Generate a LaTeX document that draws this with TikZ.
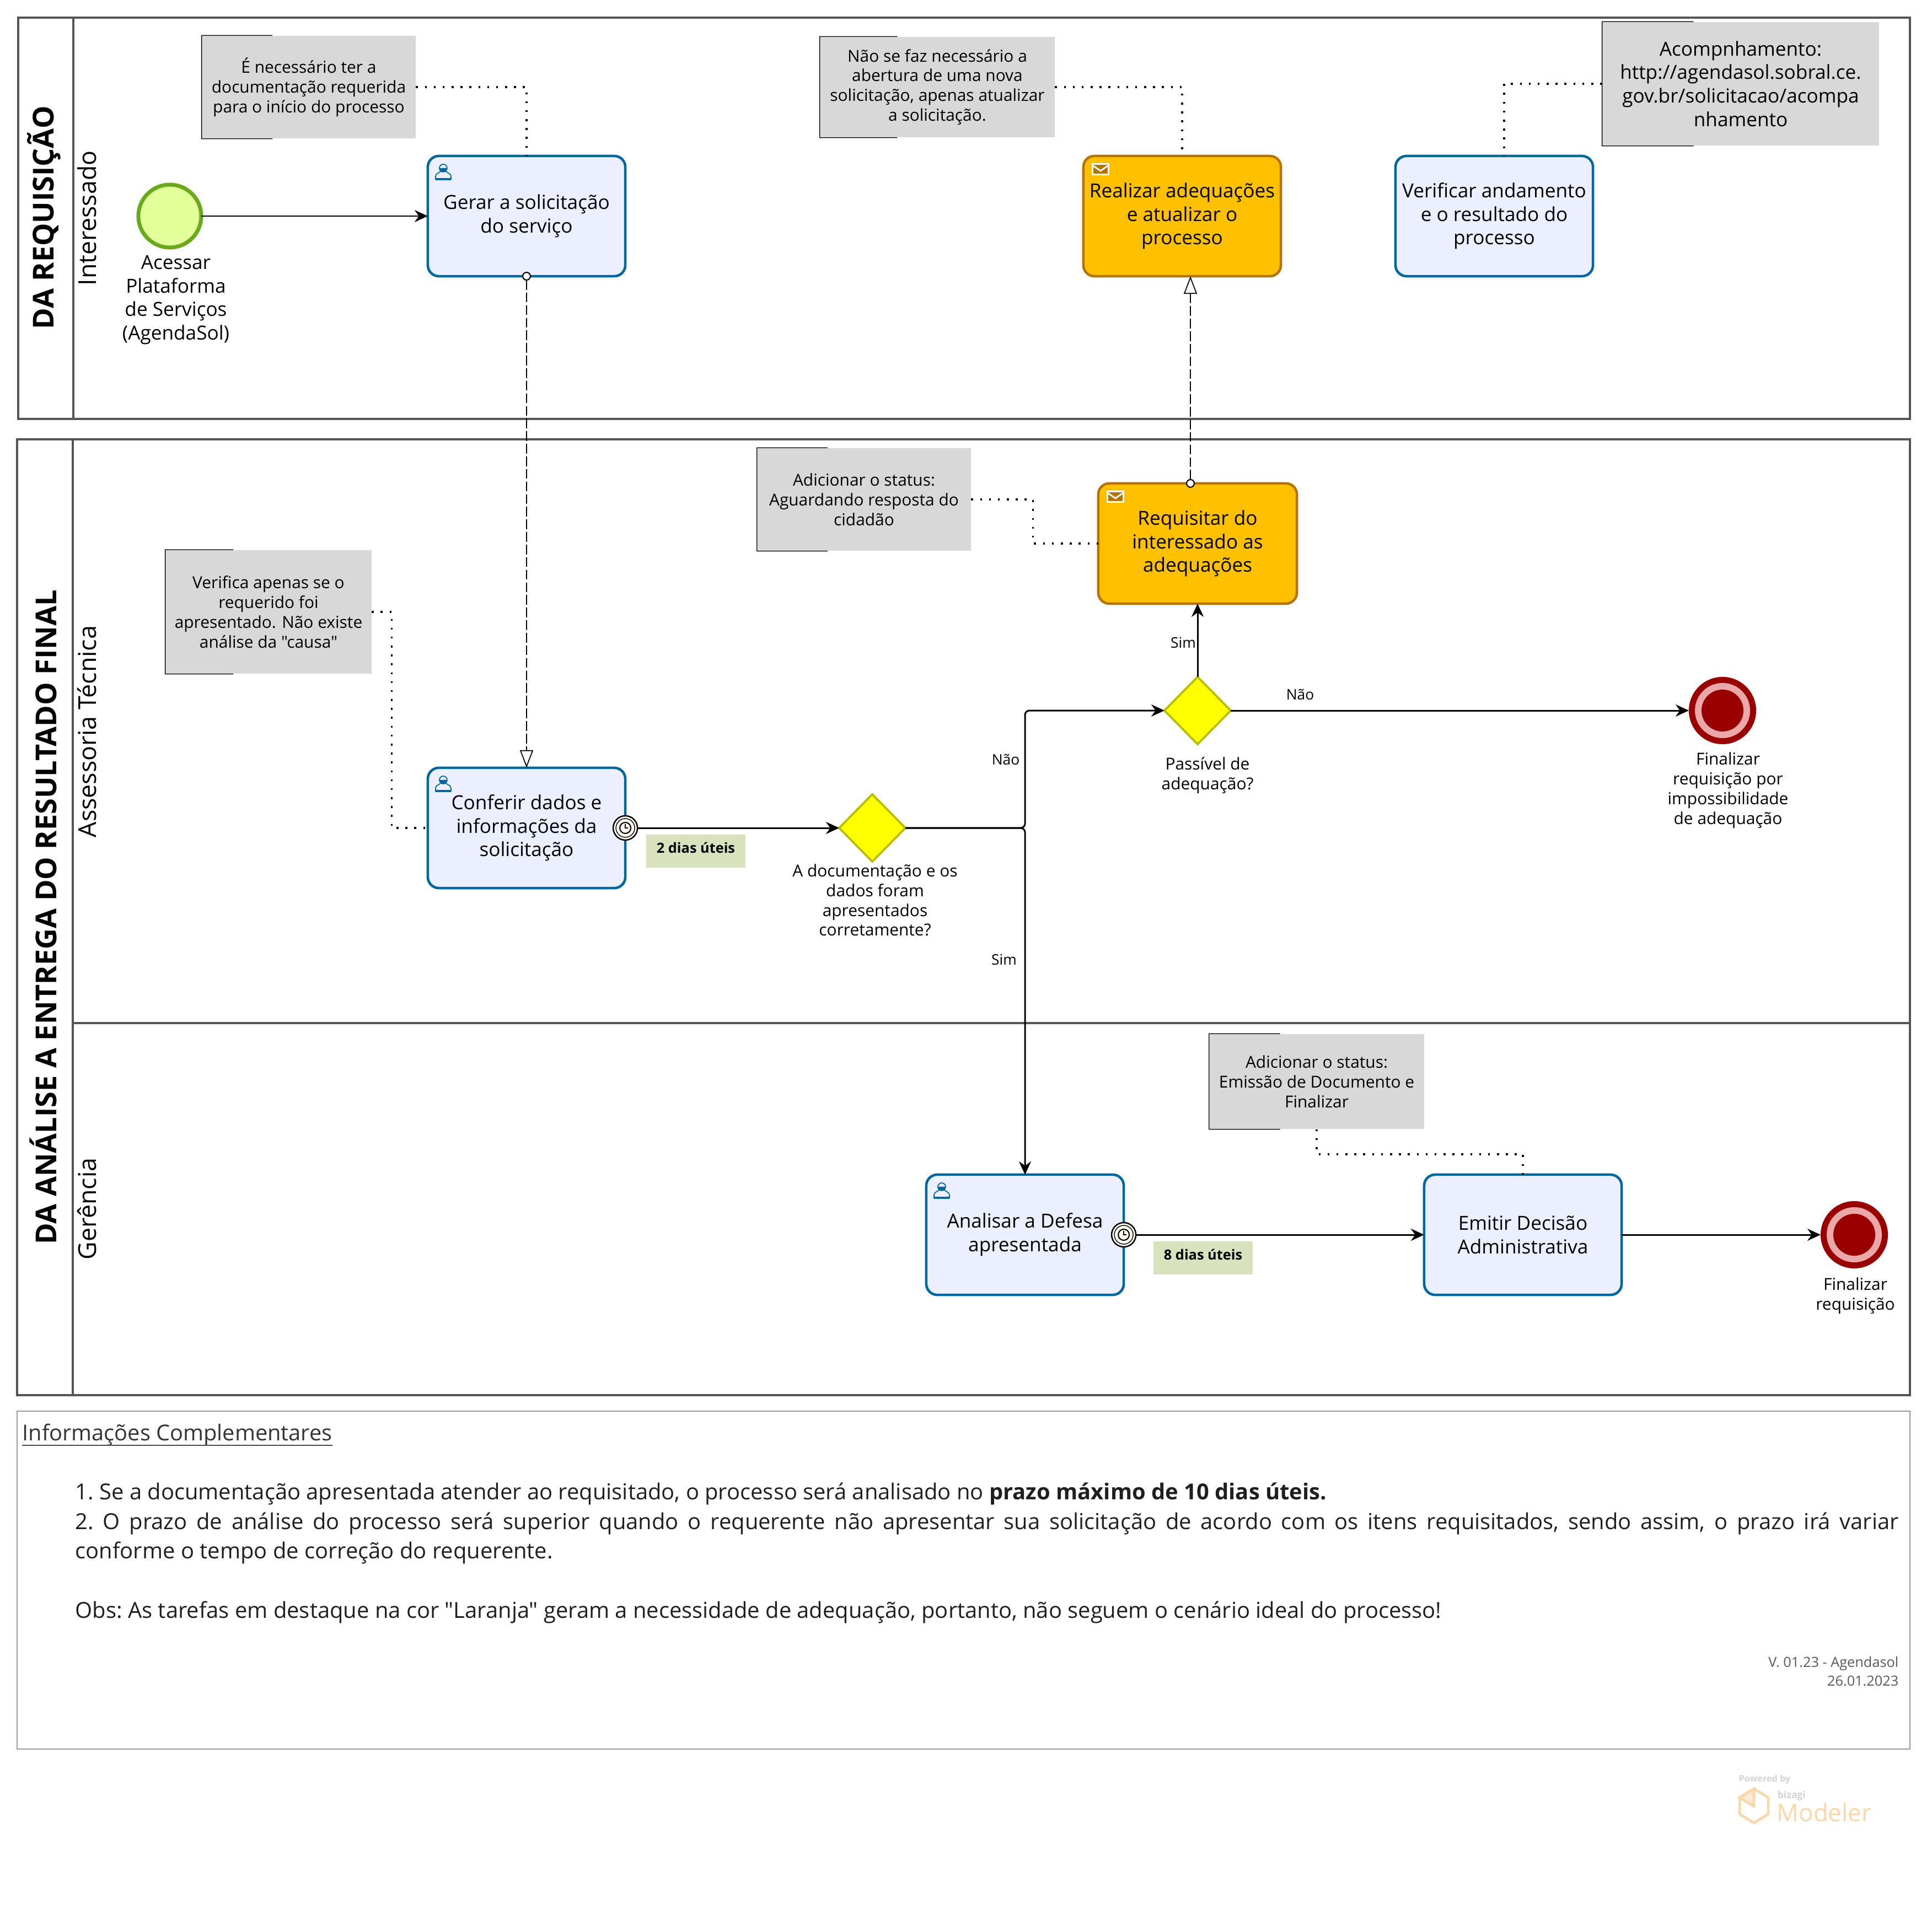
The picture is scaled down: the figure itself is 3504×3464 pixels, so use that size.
\documentclass[tikz,border=0pt]{standalone}
\usepackage{xcolor}
\usepackage{fontspec}
\setmainfont{Open Sans}[Ligatures=TeXOff]
\usepackage{tikz}
\usetikzlibrary{arrows.meta,
                calc,
                shapes.geometric}

\definecolor{lanegray}{HTML}{555555}
\definecolor{boxgray}{HTML}{999999}
\definecolor{notegray}{HTML}{D8D8D8}
\definecolor{taskblue}{HTML}{00689E}
\definecolor{taskfill}{HTML}{ECEFFF}
\definecolor{lateline}{HTML}{B37400}
\definecolor{latefill}{HTML}{FFC000}
\definecolor{startline}{HTML}{6AA81E}
\definecolor{startfill}{HTML}{E3FF99}
\definecolor{gateline}{HTML}{BDBD00}
\definecolor{gatefill}{HTML}{FFFF00}
\definecolor{endred}{HTML}{990000}
\definecolor{endpink}{HTML}{ECA8A8}
\definecolor{duegreen}{HTML}{D8E2BC}
\definecolor{timerfill}{HTML}{FFFBF0}
\definecolor{logoorange}{HTML}{FAD6A8}
\definecolor{logogray}{HTML}{D2D2D2}

\tikzset{
  lane/.style={draw=lanegray,line width=0.9pt},
  lanetitle/.style={rotate=90,font=\fontsize{14.85}{17}\selectfont\bfseries},
  lanename/.style={rotate=90,font=\fontsize{12.7}{15}\selectfont},
  task/.style={draw=taskblue,fill=taskfill,line width=1.3pt,rounded corners=0.2cm,
    minimum width=3.58cm,minimum height=2.18cm,inner sep=0pt,outer sep=0pt,align=center,
    font=\fontsize{10}{12.1}\selectfont},
  latetask/.style={task,draw=lateline,fill=latefill},
  notebox/.style={fill=notegray,inner sep=0pt,align=center,
    font=\fontsize{8.5}{10.2}\selectfont},
  bigtext/.style={align=center,font=\fontsize{10}{12.1}\selectfont},
  smalltext/.style={align=center,font=\fontsize{8.5}{10.2}\selectfont},
  gatelabel/.style={font=\fontsize{7.5}{9}\selectfont},
  gateway/.style={diamond,aspect=1,draw=gateline,fill=gatefill,line width=1.1pt,
    minimum width=1.2cm,minimum height=1.22cm,inner sep=0pt,outer sep=0pt},
  startevent/.style={circle,draw=startline,fill=startfill,line width=2pt,
    minimum size=1.14cm,inner sep=0pt,outer sep=0pt},
  endevent/.style={circle,fill=endred,minimum size=1.22cm,inner sep=0pt,outer sep=0pt},
  timer/.style={circle,draw=black,fill=timerfill,line width=0.7pt,
    minimum size=0.44cm,inner sep=0pt,outer sep=0pt},
  duebox/.style={fill=duegreen,minimum width=1.8cm,minimum height=0.6cm,inner sep=0pt,
    font=\fontsize{7.2}{9}\selectfont\bfseries},
  flow/.style={->,line width=0.85pt},
  msgflow/.style={{Circle[open,fill=white,length=0.16cm,line width=0.6pt]}-{Triangle[open,fill=white,length=0.32cm,width=0.24cm,line width=0.5pt]},
    line width=0.5pt,dash pattern=on 5pt off 1.5pt,shorten <=-0.08cm},
  assoc/.style={line width=1pt,dash pattern=on 1pt off 3.6pt},
}

\begin{document}
\begin{tikzpicture}[x=0.01cm,y=-0.01cm,>={Stealth[length=0.24cm,width=0.22cm]}]
\useasboundingbox (0,0) rectangle (3504,3464);
% pools
\draw[lane] (33,32) rectangle (3464,760);
\draw[lane] (133,32) -- (133,760);
\draw[lane] (31,797) rectangle (3464,2531);
\draw[lane] (132,797) -- (132,2531);
\draw[lane] (132,1856) -- (3464,1856);
\node[lanetitle] (titlea) at (80,395) {DA REQUISIÇÃO};
\node[lanetitle] (titleb) at (78,1664) {DA ANÁLISE A ENTREGA DO RESULTADO FINAL};
\node[lanename] (lanea) at (158,396) {Interessado};
\node[lanename] (laneb) at (158,1327) {Assessoria Técnica};
\node[lanename] (lanec) at (158,2193) {Gerência};

% tasks
\node[task] (gerar) at (955,392) {Gerar a solicitação\\do serviço};
\node[latetask] (realizar) at (2144,392) {Realizar adequações\\e atualizar o\\processo};
\node[task] (verificar) at (2710,392) {Verificar andamento\\e o resultado do\\processo};
\node[latetask,minimum width=3.6cm] (requisitar) at (2172,986) {Requisitar do\\interessado as\\adequações};
\node[task] (conferir) at (955,1502) {Conferir dados e\\informações da\\solicitação};
\node[task] (analisar) at (1859,2240) {Analisar a Defesa\\apresentada};
\node[task] (emitir) at (2762,2240) {Emitir Decisão\\Administrativa};

% task markers
\foreach \n in {gerar,conferir,analisar}{
  \begin{scope}[shift={(\n.north west)},draw=taskblue,line width=0.5pt]
    \draw (14,42) -- (14,37) .. controls (14,32) and (20,31) .. (23,28) -- (33,28) .. controls (36,31) and (42,32) .. (42,37) -- (42,42) -- cycle;
    \draw[fill=taskfill] (28,22) circle (7);
    \fill[taskblue] (21,22) arc (180:0:7) -- cycle;
    \draw[line width=1pt] (14,42) -- (42,42);
  \end{scope}
}
\foreach \n in {realizar,requisitar}{
  \begin{scope}[shift={(\n.north west)}]
    \fill[white] (15,13) rectangle (47,35);
    \fill[lateline] (18,16) rectangle (44,32);
    \draw[white,line width=0.8pt] (18,18) -- (31,27) -- (44,18);
  \end{scope}
}

% events and gateways
\node[startevent] (inicio) at (308,392) {};
\node[bigtext] (inicioname) at (319,544) {Acessar\\Plataforma\\de Serviços\\(AgendaSol)};
\node[gateway] (gwa) at (1582,1502) {};
\node[smalltext] (gwaname) at (1587,1633) {A documentação e os\\dados foram\\apresentados\\corretamente?};
\node[gateway] (gwb) at (2172,1289) {};
\node[smalltext] (gwbname) at (2190,1407) {Passível de\\adequação?};
\foreach \n/\x/\y in {fima/3124/1289,fimb/3363/2240}{
  \node[endevent] (\n) at (\x,\y) {};
  \fill[endpink] (\n.center) circle (50);
  \fill[endred] (\n.center) circle (38);
}
\node[smalltext] (fimaname) at (3134,1434) {Finalizar\\requisição por\\impossibilidade\\de adequação};
\node[smalltext] (fimbname) at (3365,2351) {Finalizar\\requisição};

% timers
\node[timer] (timera) at (conferir.east) {};
\node[timer] (timerb) at (analisar.east) {};
\foreach \n in {timera,timerb}{
  \draw[line width=0.4pt] (\n.center) circle (17);
  \draw[line width=0.6pt] (\n.center) circle (10);
  \draw[line width=0.5pt] ($(\n.center)+(0,-7)$) -- (\n.center) -- ($(\n.center)+(5,0)$);
}
\node[duebox] (duea) at (1262,1544) {\smash{\raisebox{-1pt}{2 dias úteis}}};
\node[duebox] (dueb) at (2182,2282) {\smash{\raisebox{-1pt}{8 dias úteis}}};

% notes
\node[notebox,minimum width=3.87cm,minimum height=1.86cm] (notea) at (560,158) {É necessário ter a\\documentação requerida\\para o início do processo};
\node[notebox,minimum width=4.25cm,minimum height=1.82cm] (noteb) at (1700,158) {Não se faz necessário a\\abertura de uma nova\\solicitação, apenas atualizar\\a solicitação.};
\node[notebox,minimum width=5.01cm,minimum height=2.24cm,font=\fontsize{10}{12.1}\selectfont] (notec) at (3157,152) {Acompnhamento:\\http://agendasol.sobral.ce.\\gov.br/solicitacao/acompa\\nhamento};
\node[notebox,minimum width=3.87cm,minimum height=1.86cm] (noted) at (1567,906) {Adicionar o status:\\Aguardando resposta do\\cidadão};
\node[notebox,minimum width=3.73cm,minimum height=2.24cm] (notee) at (487,1110) {Verifica apenas se o\\requerido foi\\apresentado. Não existe\\análise da "causa"};
\node[notebox,minimum width=3.89cm,minimum height=1.72cm] (notef) at (2388,1962) {Adicionar o status:\\Emissão de Documento e\\Finalizar};
\foreach \n in {notea,noteb,notec,noted,notee,notef}{
  \draw[line width=0.4pt] ($(\n.north west)!0.33!(\n.north east)$) -- (\n.north west) -- (\n.south west) -- ($(\n.south west)!0.33!(\n.south east)$);
}

% connectors
\draw[flow] (inicio) -- (gerar);
\draw[flow] (timera) -- (gwa);
\coordinate (subida) at (analisar.north |- gwb);
\draw[flow,rounded corners=0.08cm] (gwa.east) -| (subida) -- (gwb.west);
\draw[flow,rounded corners=0.08cm] (gwa.east) -| (analisar.north);
\draw[flow] (gwb.north) -- (requisitar.south);
\draw[flow] (gwb.east) -- (fima);
\draw[flow] (timerb) -- (emitir);
\draw[flow] (emitir) -- (fimb);
\draw[msgflow] (gerar.south) -- (conferir.north);
\draw[msgflow] ($(requisitar.north)+(-13,0)$) -- ($(realizar.south)+(15,0)$);
\draw[assoc] (notea.east) -| (gerar.north);
\draw[assoc] (noteb.east) -| (realizar.north);
\draw[assoc] (notec.west) -| ($(verificar.north)+(18,0)$);
\draw[assoc] (noted.east) -- ++(112,0) |- (requisitar.west);
\draw[assoc] (notee.east) -- ++(36,0) |- (conferir.west);
\draw[assoc] (notef.south) -- ++(0,45) -| (emitir.north);

% flow labels
\node[gatelabel] (gwanao) at (1824,1378) {Não};
\node[gatelabel] (gwasim) at (1821,1741) {Sim};
\node[gatelabel] (gwbsim) at (2146,1166) {Sim};
\node[gatelabel] (gwbnao) at (2358,1260) {Não};

% information box
\draw[draw=boxgray,line width=0.8pt] (31,2560) rectangle (3464,3173);
\node[anchor=west,inner sep=0pt,text=black!80,font=\fontsize{11.3}{13}\selectfont] (infotitle) at (40,2603) {Informações Complementares};
\draw[line width=0.4pt,draw=black!70] (infotitle.west |- 0,2622) -- (infotitle.east |- 0,2622);
\node[anchor=north west,inner sep=0pt,text width=33.05cm,align=justify,text=black!88,font=\fontsize{11.35}{15.3}\selectfont] (infotext) at (136,2689) {%
\frenchspacing
1. Se a documentação apresentada atender ao requisitado, o processo será analisado no \textbf{prazo máximo de 10 dias úteis.}\par
2. O prazo de análise do processo será superior quando o requerente não apresentar sua solicitação de acordo com os itens requisitados, sendo assim, o prazo irá variar\linebreak conforme o tempo de correção do requerente.\par
\vspace{15.3pt}
Obs: As tarefas em destaque na cor "Laranja" geram a necessidade de adequação, portanto, não seguem o cenário ideal do processo!};
\node[anchor=north east,inner sep=0pt,align=right,text=black!65,font=\fontsize{7.2}{9.6}\selectfont] (versao) at (3444,3005) {V. 01.23 - Agendasol\\26.01.2023};

% logo
\node[anchor=west,inner sep=0pt,text=logogray,font=\fontsize{4.6}{5}\selectfont\bfseries] (powered) at (3153,3228) {Powered by};
\draw[logoorange,line width=1.3pt,fill=white] (3181,3245) -- (3207,3261) -- (3207,3291) -- (3181,3307) -- (3155,3291) -- (3155,3261) -- cycle;
\draw[logoorange,line width=1.3pt,fill=logoorange!50] (3181,3245) -- (3181,3277) -- (3155,3261) -- cycle;
\node[anchor=west,inner sep=0pt,text=logogray,font=\fontsize{5}{6}\selectfont\bfseries] (logobiz) at (3223,3258) {bizagi};
\node[anchor=west,inner sep=0pt,text=logoorange,font=\fontsize{12.5}{15}\selectfont] (logomod) at (3222,3288) {Modeler};
\end{tikzpicture}
\end{document}
